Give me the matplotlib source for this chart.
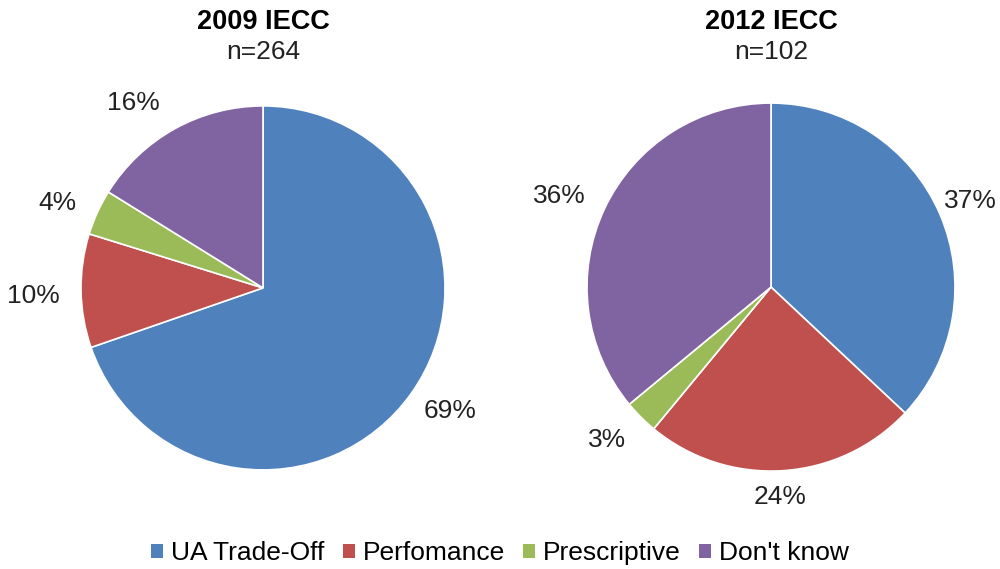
import numpy as np
import matplotlib
matplotlib.use("Agg")
import matplotlib.pyplot as plt
from matplotlib.patches import Patch

plt.rcParams['font.family'] = ['Liberation Sans', 'DejaVu Sans']

categories = ["UA Trade-Off", "Perfomance", "Prescriptive", "Don't know"]
colors = ["#4F81BD", "#C0504D", "#9BBB59", "#8064A2"]

titles = ["2009 IECC", "2012 IECC"]
counts = ["n=264", "n=102"]
shares_2009 = [69, 10, 4, 16]
shares_2012 = [37, 24, 3, 36]

fig = plt.figure(figsize=(10, 5.69), dpi=100)

# axes boxes placed so pies land where the reference has them
boxes = [[0.081, 0.174, 0.364, 0.640], [0.587, 0.172, 0.368, 0.647]]
label_dist = [[1.23, 1.26, 1.22, 1.24], [1.18, 1.14, 1.22, 1.25]]
label_turn = [[2, 1, 2, 6], [0, -1, -2, 2]]  # degrees, nudges like excel's best fit

for i, vals in enumerate([shares_2009, shares_2012]):
    ax = fig.add_axes(boxes[i])
    wedges, texts = ax.pie(vals, colors=colors, startangle=90, counterclock=False,
                           labels=["{}%".format(v) for v in vals],
                           labeldistance=1.15,
                           wedgeprops=dict(edgecolor="white", linewidth=1.2),
                           textprops=dict(fontsize=19, color="#222222"))
    for t, d, turn in zip(texts, label_dist[i], label_turn[i]):
        x, y = t.get_position()
        a = np.arctan2(y, x) + np.radians(turn)
        t.set_position((d * np.cos(a), d * np.sin(a)))
        t.set_ha("center")
        t.set_va("center")
    ax.set_xlim(-1, 1)
    ax.set_ylim(-1, 1)
    ax.set_aspect("equal")
    cx = boxes[i][0] + boxes[i][2] / 2
    fig.text(cx, 0.961, titles[i], ha="center", va="center", fontsize=19.5, fontweight="bold")
    fig.text(cx, 0.909, counts[i], ha="center", va="center", fontsize=19, color="#222222")

handles = [Patch(facecolor=c, edgecolor="none") for c in colors]
fig.legend(handles, categories, loc="center", bbox_to_anchor=(0.5, 0.028), ncol=4,
           frameon=False, handlelength=0.45, handleheight=0.45, handletextpad=0.3,
           columnspacing=0.7, prop=dict(size=19))

fig.savefig("out.png", dpi=100)
